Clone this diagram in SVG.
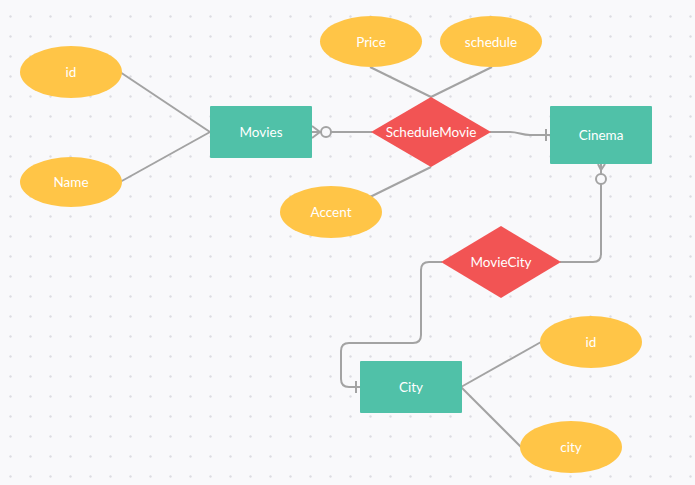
<svg xmlns="http://www.w3.org/2000/svg" width="695" height="485" viewBox="0 0 695 485">
<defs>
<pattern id="dots" x="9" y="15" width="20" height="20" patternUnits="userSpaceOnUse">
<circle cx="1.5" cy="1.5" r="1.2" fill="#dddde2"/>
</pattern>
<style>
.ent{fill:#50c1a8}
.attr{fill:#ffc547}
.rel{fill:#f25454}
.lbl{font-family:Lato,"Liberation Sans",sans-serif;font-size:13.5px;fill:#ffffff;text-anchor:middle;dominant-baseline:central}
.ln{fill:none;stroke:#a3a3a3;stroke-width:2}
.mk{fill:#f9f9fb;stroke:#a3a3a3;stroke-width:2}
</style>
</defs>
<rect width="695" height="485" fill="#f9f9fb"/>
<rect width="695" height="485" fill="url(#dots)"/>
<g id="connectors">
<line class="ln" x1="120" y1="72" x2="210" y2="132"/>
<line class="ln" x1="120" y1="182" x2="210" y2="132"/>
<path class="ln" d="M312,126 L320,132 L312,138 M312,132 L321,132"/>
<circle class="mk" cx="326" cy="132" r="5"/>
<line class="ln" x1="331" y1="132" x2="372" y2="132"/>
<path class="ln" d="M490,132 L510,132 C518,132 522,135 530,135 L550,135"/>
<line class="ln" x1="546" y1="129" x2="546" y2="141"/>
<line class="ln" x1="370" y1="67" x2="431" y2="97"/>
<line class="ln" x1="492" y1="67" x2="431" y2="97"/>
<line class="ln" x1="370" y1="197" x2="431" y2="167"/>
<path class="ln" d="M598,164 L601,170 L605,164 M601,164 L601,174"/>
<circle class="mk" cx="601" cy="179" r="5"/>
<path class="ln" d="M601,184 L601,254 Q601,262 593,262 L560,262"/>
<path class="ln" d="M442,262 L429,262 Q421,262 421,270 L421,335 Q421,343 413,343 L349,343 Q341,343 341,351 L341,379 Q341,387 349,387 L360,387"/>
<line class="ln" x1="356" y1="381" x2="356" y2="393"/>
<line class="ln" x1="461" y1="387" x2="541" y2="342"/>
<line class="ln" x1="461" y1="387" x2="521" y2="447"/>
</g>
<g id="movies"><rect class="ent" x="210" y="106" width="102" height="52" rx="1"/><text class="lbl" x="261" y="132">Movies</text></g>
<g id="cinema"><rect class="ent" x="550" y="106" width="102" height="58" rx="1"/><text class="lbl" x="601" y="135">Cinema</text></g>
<g id="city"><rect class="ent" x="360" y="361" width="102" height="52" rx="1"/><text class="lbl" x="411" y="387">City</text></g>
<g id="schedulemovie"><polygon class="rel" points="371,132 431,97 491,132 431,167"/><text class="lbl" x="431" y="132">ScheduleMovie</text></g>
<g id="moviecity"><polygon class="rel" points="441,262 501,226 561,262 501,298"/><text class="lbl" x="501" y="262">MovieCity</text></g>
<g id="attr-id-movies"><ellipse class="attr" cx="71" cy="72" rx="51" ry="26"/><text class="lbl" x="71" y="72">id</text></g>
<g id="attr-name"><ellipse class="attr" cx="71" cy="182" rx="51" ry="25"/><text class="lbl" x="71" y="182">Name</text></g>
<g id="attr-price"><ellipse class="attr" cx="371" cy="41.5" rx="51" ry="25.5"/><text class="lbl" x="371" y="42">Price</text></g>
<g id="attr-schedule"><ellipse class="attr" cx="491" cy="41.5" rx="51" ry="25.5"/><text class="lbl" x="491" y="42">schedule</text></g>
<g id="attr-accent"><ellipse class="attr" cx="331" cy="212" rx="51" ry="26"/><text class="lbl" x="331" y="212">Accent</text></g>
<g id="attr-id-city"><ellipse class="attr" cx="591" cy="342" rx="51" ry="26"/><text class="lbl" x="591" y="342">id</text></g>
<g id="attr-city"><ellipse class="attr" cx="571" cy="447" rx="51" ry="26"/><text class="lbl" x="571" y="447">city</text></g>
</svg>
